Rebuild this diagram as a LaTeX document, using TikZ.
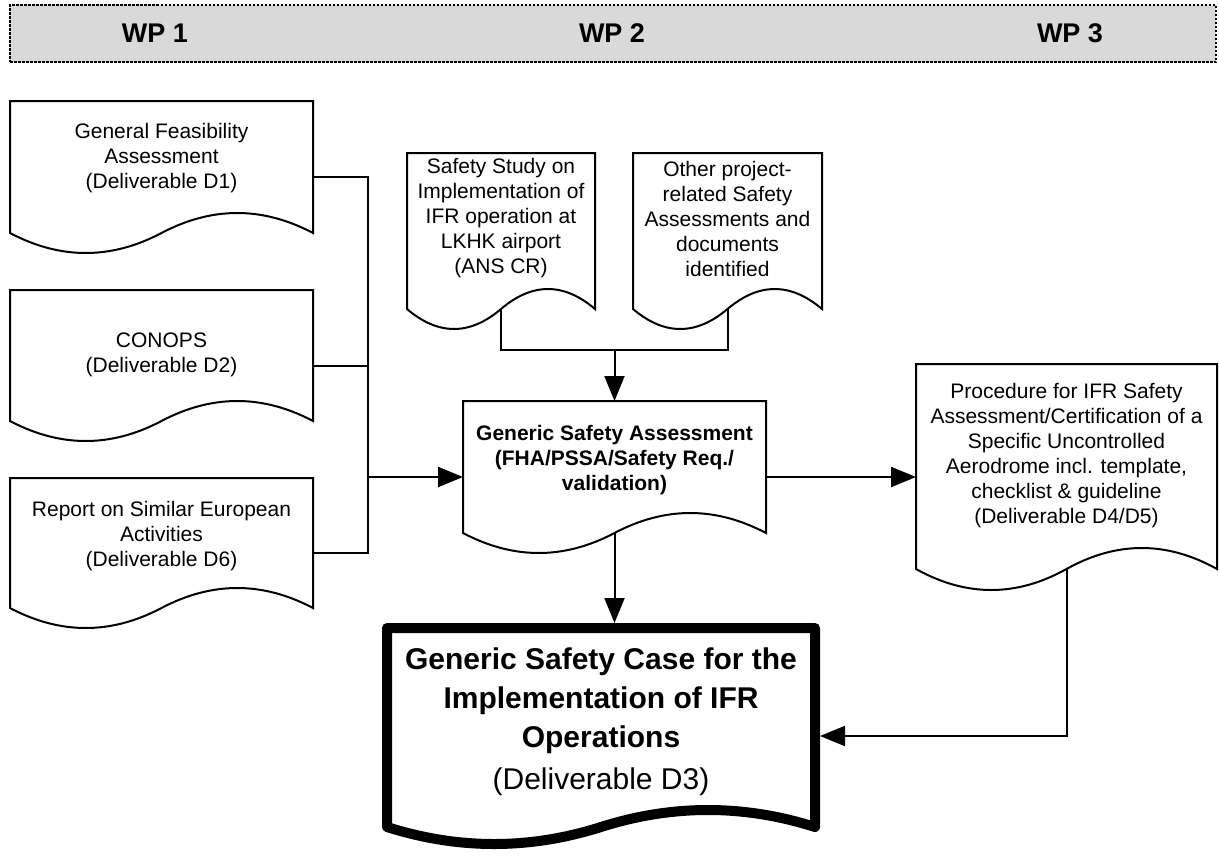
\documentclass[tikz,border=0pt]{standalone}
\usepackage{fontspec}
\setmainfont{Liberation Sans}
\usetikzlibrary{arrows.meta,calc}

\definecolor{headgray}{HTML}{D9D9D9}

\tikzset{
  every node/.style={inner sep=0pt, outer sep=0pt},
  docbox/.style={rectangle, draw=none},
  docline/.style={draw=black, fill=white, line width=2pt},
  doctext/.style={align=center, font=\fontsize{21}{25}\selectfont},
  boldtext/.style={doctext, font=\fontsize{21}{25}\selectfont\bfseries},
  headtext/.style={font=\fontsize{27}{30}\selectfont\bfseries},
  link/.style={line width=2pt},
  flow/.style={line width=2pt, -{Triangle[length=25pt,width=20pt]}},
}

% Document outline: flat top, wavy bottom. #2 = node, #3 = wave amplitude.
\newcommand\docoutline[3][]{%
  \path[docline,#1] let \p1=(#2.south west), \p2=(#2.north east),
     \n1={(\x2-\x1)/6}, \n2={#3} in
     (\x1,\y2) -- (\x2,\y2) -- (\x2,\y1+\n2)
     .. controls (\x2-\n1,\y1+7*\n2/3) and (\x2-2*\n1,\y1+7*\n2/3) .. (\x2-3*\n1,\y1+\n2)
     .. controls (\x2-4*\n1,\y1-\n2/3) and (\x2-5*\n1,\y1-\n2/3) .. (\x1,\y1+\n2) -- cycle;}

\begin{document}
\begin{tikzpicture}[x=1pt,y=-1pt]
\useasboundingbox (0,0) rectangle (1219,857);

% work-package header
\node[draw=black, fill=headgray, line width=1.5pt, dash pattern=on 2.5pt off 1.5pt,
      minimum width=1206pt, minimum height=57pt] (hdr) at (613,33.5) {};
\node[headtext] (wp1) at (155,33) {WP 1};
\node[headtext] (wp2) at (612,33) {WP 2};
\node[headtext] (wp3) at (1070,33) {WP 3};

% document frames (bounding boxes down to the lowest point of the wave)
\node[docbox, minimum width=303pt, minimum height=152pt] (d1) at (161.5,177) {};
\node[docbox, minimum width=303pt, minimum height=151pt] (d2) at (161.5,365.5) {};
\node[docbox, minimum width=303pt, minimum height=150pt] (d6) at (161.5,553) {};
\node[docbox, minimum width=188pt, minimum height=176pt] (ss) at (501,241) {};
\node[docbox, minimum width=189pt, minimum height=176pt] (ot) at (727.5,241) {};
\node[docbox, minimum width=303pt, minimum height=152pt] (gsa) at (614.5,477) {};
\node[docbox, minimum width=301pt, minimum height=226pt] (proc) at (1066.5,477) {};
\node[docbox, minimum width=428pt, minimum height=216pt] (d3) at (601,736) {};

\docoutline{d1}{20pt}
\docoutline{d2}{20pt}
\docoutline{d6}{20pt}
\docoutline{ss}{20pt}
\docoutline{ot}{20pt}
\docoutline{gsa}{20pt}
\docoutline{proc}{21pt}
\docoutline[line width=10pt, line join=round]{d3}{17pt}

% texts
\node[doctext] (t1) at (161.5,158) {General Feasibility\\Assessment\\(Deliverable D1)};
\node[doctext] (t2) at (161.5,355) {CONOPS\\(Deliverable D2)};
\node[doctext] (t6) at (161.5,536) {Report on Similar European\\Activities\\(Deliverable D6)};
\node[doctext] (tss) at (501,218) {Safety Study on\\Implementation of\\IFR operation at\\LKHK airport\\(ANS CR)};
\node[doctext] (tot) at (727.5,219) {Other project-\\related Safety\\Assessments and\\documents\\identified};
\node[boldtext] (tgsa) at (614.5,460) {Generic Safety Assessment\\(FHA/PSSA/Safety Req./\\validation)};
\node[doctext] (tproc) at (1066.5,456) {Procedure for IFR Safety\\Assessment/Certification of a\\Specific Uncontrolled\\Aerodrome incl. template,\\checklist \& guideline\\(Deliverable D4/D5)};
\node[align=center, font=\fontsize{30}{39}\selectfont] (td3) at (601,722)
  {\textbf{Generic Safety Case for the}\\\textbf{Implementation of IFR}\\\textbf{Operations}\\[3pt](Deliverable D3)};

% connectors
\coordinate (bus) at (368,477);
\draw[link] (d1.east) -| (bus);
\draw[link] (d2.east) -| (bus);
\draw[link] (d6.east) -| (bus);
\draw[flow] (bus) -- (gsa.west);

\coordinate (merge) at (614.5,350);
\draw[link] ([yshift=20pt]ss.south) |- (merge);
\draw[link] ([yshift=20pt]ot.south) |- (merge);
\draw[flow] (merge) -- (gsa.north);

\draw[flow, shorten >=5pt] ([yshift=20pt]gsa.south) -- (gsa.south |- d3.north);
\draw[flow] (gsa.east) -- (proc.west);
\draw[flow, shorten >=5pt] ([yshift=21pt]proc.south) |- (d3.east);
\end{tikzpicture}
\end{document}
